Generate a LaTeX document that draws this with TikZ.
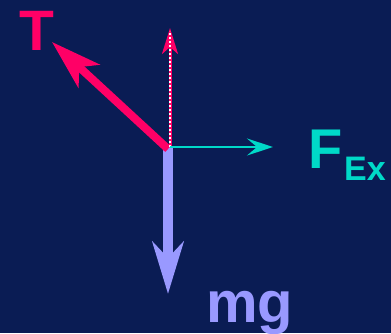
\documentclass[tikz,border=0pt]{standalone}
\usepackage{fontspec}
\setmainfont{Liberation Sans}
\usetikzlibrary{arrows.meta}
\definecolor{bg}{RGB}{10,28,84}
\definecolor{tred}{RGB}{255,0,102}
\definecolor{fcyan}{RGB}{0,217,200}
\definecolor{mgpurple}{RGB}{153,153,255}
\tikzset{
  lbl/.style={inner sep=0pt, anchor=base west, font=\bfseries},
}
\begin{document}
\begin{tikzpicture}[x=1pt,y=-1pt]
\fill[bg] (0,0) rectangle (391,333);
\useasboundingbox (0,0) rectangle (391,333);
\coordinate (O) at (170,147);
\coordinate (Ored) at (168,149);
\coordinate (Opur) at (168,146);
\coordinate (Ttip) at (52,42);
\coordinate (Utip) at (170,28);
\coordinate (Ftip) at (273,147);
\coordinate (Gtip) at (168,294);
% weight
\draw[mgpurple, line width=10pt, -{Stealth[length=52pt,width=31pt,inset=16pt]}] (Opur) -- (Gtip);
% tension
\draw[tred, line width=8pt, -{Stealth[length=50pt,width=31pt,inset=13pt]}] (Ored) -- (Ttip);
% dashed vertical component
\draw[tred, line width=3pt, -{Stealth[length=26pt,width=16pt,inset=7pt]}] (O) -- (Utip);
\coordinate (Udash) at (170,31);
\draw[white, line width=1.2pt, dash pattern=on 2pt off 2pt] (O) -- (Udash);
% external force
\draw[fcyan, line width=2pt, -{Stealth[length=26pt,width=17pt,inset=10pt]}] (O) -- (Ftip);
% labels
\node[lbl, text=tred, font=\bfseries\fontsize{57}{60}\selectfont] (T) at (19,50) {T};
\node[lbl, text=fcyan, font=\bfseries\fontsize{56}{60}\selectfont] (F) at (308,168) {F};
\node[lbl, text=fcyan, font=\bfseries\fontsize{34}{38}\selectfont] (Ex) at (344,180) {Ex};
\node[lbl, text=mgpurple, font=\bfseries\fontsize{58}{60}\selectfont] (mg) at (206,322) {mg};
\end{tikzpicture}
\end{document}
